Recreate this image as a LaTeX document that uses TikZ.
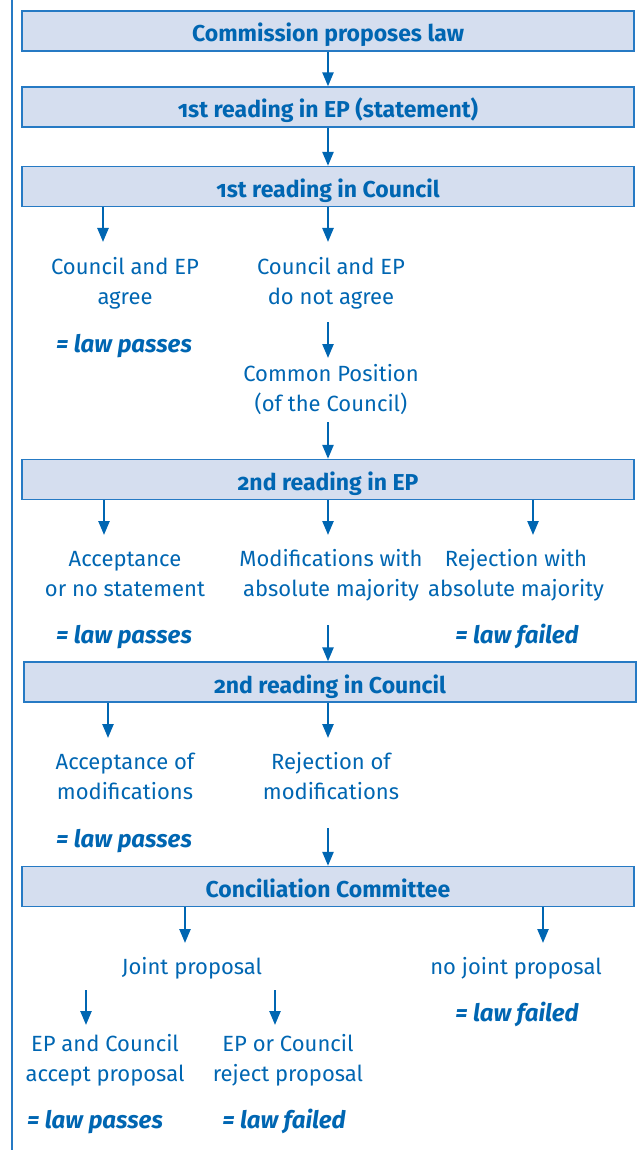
\documentclass[tikz,border=0pt]{standalone}
\usepackage{fontspec}
\setmainfont[Numbers=OldStyle]{Fira Sans}
\usepackage{tikz}
\usetikzlibrary{arrows.meta}
\definecolor{eublue}{RGB}{0,102,178}
\definecolor{eufill}{RGB}{213,222,239}
\definecolor{euline}{RGB}{38,122,196}

\begin{document}
\begin{tikzpicture}[x=1pt,y=-1pt,
	every node/.style={font=\fontsize{22}{30}\selectfont, text=eublue, inner sep=0pt},
	stage/.style={draw=euline, line width=1.3pt, fill=eufill, minimum width=612pt, minimum height=40pt,
		text height=22pt, text depth=0pt, font=\fontsize{23}{30}\selectfont\bfseries},
	note/.style={align=center, anchor=base},
	verdict/.style={anchor=base, font=\fontsize{24}{30}\selectfont\bfseries\itshape},
	flow/.style={draw=eublue, line width=2.4pt, -{Triangle[length=14pt,width=11pt]}}]
	\useasboundingbox (0,0) rectangle (643,1150);
	\draw[euline, line width=1.3pt] (12,0) -- (12,1150);

	\node[stage] (b1) at (328,31) {Commission proposes law};
	\node[stage] (b2) at (328,107) {1st reading in EP (statement)};
	\node[stage] (b3) at (328,186.5) {1st reading in Council};
	\node[stage] (b4) at (328,479.5) {2nd reading in EP};
	\node[stage] (b5) at (330,682) {2nd reading in Council};
	\node[stage] (b6) at (328,886.5) {Conciliation Committee};

	% two-line notes sit on the baseline of their last line
	\node[note] (agree) at (125,304) {Council and EP\\agree};
	\node[note] (disagree) at (331,304) {Council and EP\\do not agree};
	\node[verdict] (pass1) at (124,352) {= law passes};
	\node[note] (compos) at (331,411) {Common Position\\(of the Council)};

	\node[note] (accept) at (125,596) {Acceptance\\or no statement};
	\node[note] (modif) at (331,596) {Modifications with\\absolute majority};
	\node[note] (reject) at (516,596) {Rejection with\\absolute majority};
	\node[verdict] (pass2) at (124,643) {= law passes};
	\node[verdict] (fail1) at (517,643) {= law failed};

	\node[note] (accmod) at (125,799) {Acceptance of\\modifications};
	\node[note] (rejmod) at (331,799) {Rejection of\\modifications};
	\node[verdict] (pass3) at (124,847) {= law passes};

	\node[note] (joint) at (192,974) {Joint proposal};
	\node[note] (nojoint) at (516,974) {no joint proposal};
	\node[verdict] (fail2) at (517,1021) {= law failed};
	\node[note] (epacc) at (105,1081) {EP and Council\\accept proposal};
	\node[note] (eprej) at (288,1081) {EP or Council\\reject proposal};
	\node[verdict] (pass4) at (95,1128) {= law passes};
	\node[verdict] (fail3) at (284,1128) {= law failed};

	% arrow tips and starts below the free text
	\coordinate (t1) at (103,242);
	\coordinate (t2) at (328,242);
	\coordinate (s3) at (328,322);
	\coordinate (t3) at (328,358);
	\coordinate (s4) at (328,422);
	\coordinate (t4) at (104,535);
	\coordinate (t5) at (328,535);
	\coordinate (t6) at (533,535);
	\coordinate (s7) at (328,625);
	\coordinate (t7) at (108,738);
	\coordinate (t8) at (328,738);
	\coordinate (s9) at (328,828);
	\coordinate (t9) at (185,943);
	\coordinate (t10) at (543,943);
	\coordinate (s11) at (86,990);
	\coordinate (t11) at (86,1025);
	\coordinate (s12) at (275,990);
	\coordinate (t12) at (275,1025);

	\draw[flow] (b1) -- (b2);
	\draw[flow] (b2) -- (b3);
	\draw[flow] (b3.south -| t1) -- (t1);
	\draw[flow] (b3.south -| t2) -- (t2);
	\draw[flow] (s3) -- (t3);
	\draw[flow] (s4) -- (b4.north -| s4);
	\draw[flow] (b4.south -| t4) -- (t4);
	\draw[flow] (b4.south -| t5) -- (t5);
	\draw[flow] (b4.south -| t6) -- (t6);
	\draw[flow] (s7) -- (b5.north -| s7);
	\draw[flow] (b5.south -| t7) -- (t7);
	\draw[flow] (b5.south -| t8) -- (t8);
	\draw[flow] (s9) -- (b6.north -| s9);
	\draw[flow] (b6.south -| t9) -- (t9);
	\draw[flow] (b6.south -| t10) -- (t10);
	\draw[flow] (s11) -- (t11);
	\draw[flow] (s12) -- (t12);
\end{tikzpicture}
\end{document}
